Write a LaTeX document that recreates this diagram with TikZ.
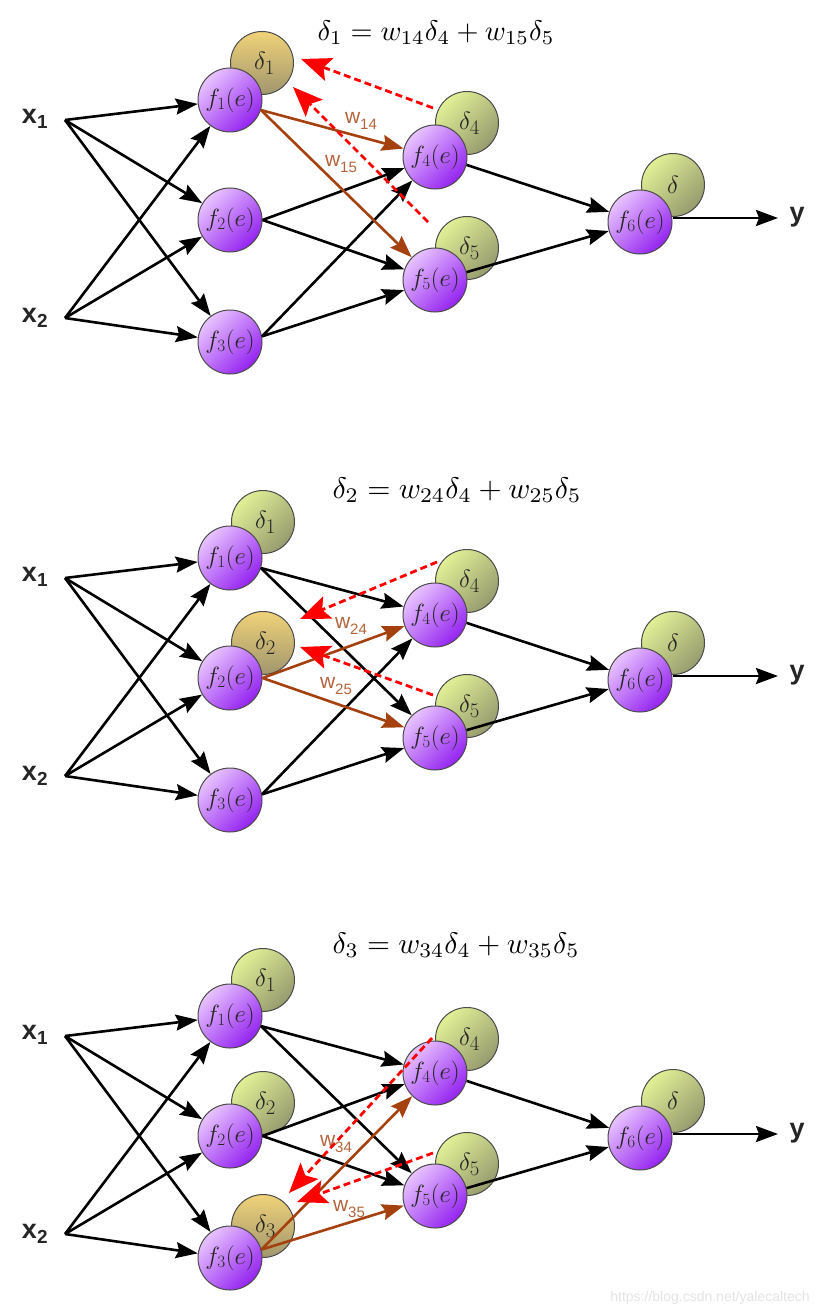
\documentclass[tikz,border=0pt]{standalone}
\usepackage{fontspec}
\usepackage{graphicx}
\usetikzlibrary{arrows.meta}
\newfontfamily\arial{Liberation Sans}
\definecolor{fl}{RGB}{232,195,255}
\definecolor{fd}{RGB}{148,35,240}
\definecolor{gl}{RGB}{225,240,150}
\definecolor{gd}{RGB}{150,155,110}
\definecolor{ol}{RGB}{240,210,120}
\definecolor{od}{RGB}{160,150,110}
\definecolor{edge}{RGB}{75,75,75}
\definecolor{brn}{RGB}{165,65,15}
\definecolor{brnlab}{RGB}{180,100,60}
\definecolor{wm}{RGB}{228,228,228}
\newcommand\dlab[1]{\raisebox{-6pt}{\hspace{5pt}$\delta_{#1}$}}
\newcommand\wlab[1]{w\raisebox{-6pt}{\fontsize{15}{17}\selectfont #1}}
\newcommand\netcommon{%
  \node[fnode] (f1) at (230,100) {$f_1(e)$};
  \node[fnode] (f2) at (230,220) {$f_2(e)$};
  \node[fnode] (f3) at (230,342) {$f_3(e)$};
  \node[dnode] (d4) at (467,123) {\dlab{4}};
  \node[fnode] (f4) at (435,157) {$f_4(e)$};
  \node[dnode] (d5) at (467,248) {\dlab{5}};
  \node[fnode] (f5) at (435,280) {$f_5(e)$};
  \node[dnode] (d6) at (673,185) {\raisebox{-5pt}{$\delta$}};
  \node[fnode] (f6) at (640,222) {$f_6(e)$};
  \coordinate (x1) at (65,120);
  \coordinate (x2) at (65,318);
  \coordinate (yend) at (778,218);
  \node[inlab] (lx1) at (35,119) {x\textsubscript{1}};
  \node[inlab] (lx2) at (35,318) {x\textsubscript{2}};
  \node[inlab] (ly) at (797,217) {y};
  \draw[conn] (x1) -- (f1);
  \draw[conn] (x1) -- (f2);
  \draw[conn] (x1) -- (f3);
  \draw[conn] (x2) -- (f1);
  \draw[conn] (x2) -- (f2);
  \draw[conn] (x2) -- (f3);
  \draw[conn] (f4.-14) -- (f6);
  \draw[conn] (f5.14) -- (f6);
  \draw[conn] (f6.east |- yend) -- (yend);
}
\begin{document}
\begin{tikzpicture}[x=1pt,y=-1pt,
  fnode/.style={circle, draw=edge, line width=1pt, minimum size=64pt, inner sep=0pt,
    top color=fl, bottom color=fd, shading angle=45, text=black!85,
    font=\fontsize{27}{30}\selectfont},
  dnode/.style={circle, draw=edge, line width=1pt, minimum size=63pt, inner sep=0pt,
    top color=gl, bottom color=gd, shading angle=45, text=black!85,
    font=\fontsize{29}{32}\selectfont},
  dhl/.style={dnode, top color=ol, bottom color=od},
  inlab/.style={font=\arial\bfseries\fontsize{27}{30}\selectfont, text=black!85, inner sep=0pt},
  conn/.style={draw=black, line width=2.6pt, -{Stealth[length=22pt,width=16pt,inset=3pt]}},
  wconn/.style={conn, draw=brn, -{Stealth[length=22pt,width=16pt,inset=3pt,color=brn]}},
  wtext/.style={font=\arial\fontsize{21}{23}\selectfont, text=brnlab, inner sep=0pt},
  back/.style={draw=red, line width=2.8pt, dash pattern=on 7pt off 4pt,
    -{Stealth[length=30pt,width=24pt,inset=6pt,color=red]}},
  title/.style={inner sep=0pt}]
\useasboundingbox[fill=white] (0,0) rectangle (832,1316);

% ---------------- panel 1 ----------------
\begin{scope}[name prefix=a-]
  \node[title] (t) at (436,33) {\resizebox{237pt}{!}{$\delta_1 = w_{14}\delta_4 + w_{15}\delta_5$}};
  \node[dhl] (d1) at (262,63) {\dlab{1}};
  \netcommon
  \draw[conn] (f2.east) -- (f4);
  \draw[conn] (f2.east) -- (f5);
  \draw[conn] (f3.10) -- (f4);
  \draw[conn] (f3.10) -- (f5);
  \draw[wconn] (f1.-18) -- (f4);
  \draw[wconn] (f1.-18) -- (f5);
  \node[wtext] (w14) at (361,121) {\wlab{14}};
  \node[wtext] (w15) at (341,164) {\wlab{15}};
  \coordinate (r1s) at (433,108);
  \coordinate (r1e) at (301,59);
  \coordinate (r2s) at (428,222);
  \coordinate (r2e) at (293,87);
  \draw[back] (r1s) -- (r1e);
  \draw[back] (r2s) -- (r2e);
\end{scope}

% ---------------- panel 2 ----------------
\begin{scope}[yshift=-458pt, name prefix=b-]
  \node[title] (t) at (457,32) {\resizebox{249pt}{!}{$\delta_2 = w_{24}\delta_4 + w_{25}\delta_5$}};
  \node[dnode] (d1) at (263,64) {\dlab{1}};
  \node[dhl] (d2) at (263,185) {\dlab{2}};
  \netcommon
  \draw[conn] (f1.-18) -- (f4);
  \draw[conn] (f1.-18) -- (f5);
  \draw[conn] (f3.10) -- (f4);
  \draw[conn] (f3.10) -- (f5);
  \draw[wconn] (f2.east) -- (f4);
  \draw[wconn] (f2.east) -- (f5);
  \node[wtext] (w24) at (351,168) {\wlab{24}};
  \node[wtext] (w25) at (336,228) {\wlab{25}};
  \coordinate (r1s) at (437,104);
  \coordinate (r1e) at (300,161);
  \coordinate (r2s) at (433,237);
  \coordinate (r2e) at (300,189);
  \draw[back] (r1s) -- (r1e);
  \draw[back] (r2s) -- (r2e);
\end{scope}

% ---------------- panel 3 ----------------
\begin{scope}[yshift=-916pt, name prefix=c-]
  \node[title] (t) at (456,29) {\resizebox{247pt}{!}{$\delta_3 = w_{34}\delta_4 + w_{35}\delta_5$}};
  \node[dnode] (d1) at (263,64) {\dlab{1}};
  \node[dnode] (d2) at (263,187) {\dlab{2}};
  \node[dhl] (d3) at (263,310) {\dlab{3}};
  \netcommon
  \draw[conn] (f1.-18) -- (f4);
  \draw[conn] (f1.-18) -- (f5);
  \draw[conn] (f2.east) -- (f4);
  \draw[conn] (f2.east) -- (f5);
  \draw[wconn] (f3.15) -- (f4);
  \draw[wconn] (f3.15) -- (f5);
  \node[wtext] (w34) at (336,228) {\wlab{34}};
  \node[wtext] (w35) at (349,293) {\wlab{35}};
  \coordinate (r1s) at (432,122);
  \coordinate (r1e) at (289,277);
  \coordinate (r2s) at (433,237);
  \coordinate (r2e) at (297,286);
  \draw[back] (r1s) -- (r1e);
  \draw[back] (r2s) -- (r2e);
\end{scope}

\node[font=\arial\fontsize{14}{16}\selectfont, text=wm, inner sep=0pt] (wmark) at (710,1298) {https://blog.csdn.net/yalecaltech};
\end{tikzpicture}
\end{document}
